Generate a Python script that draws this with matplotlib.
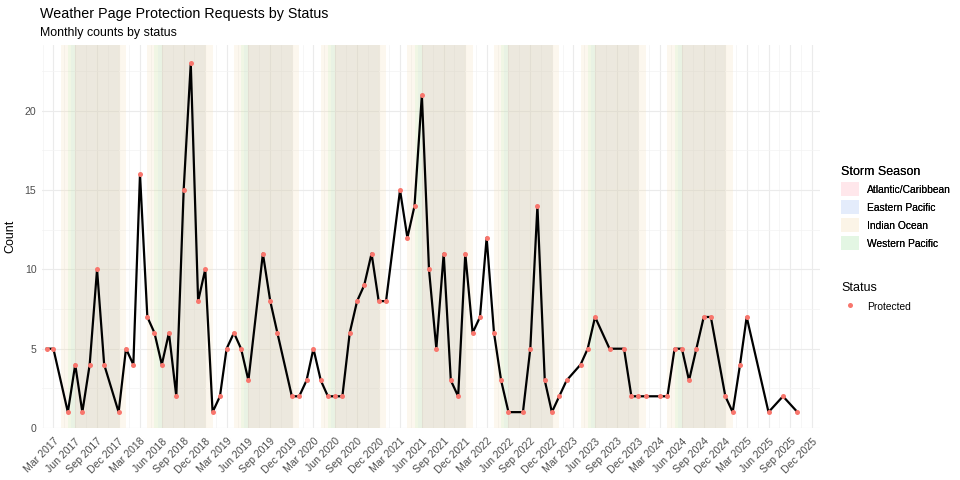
import matplotlib
matplotlib.use("Agg")
import matplotlib.pyplot as plt
from matplotlib.patches import Patch
from matplotlib.lines import Line2D
import pandas as pd
import numpy as np

plt.rcParams['font.family'] = ['Liberation Sans', 'DejaVu Sans']

# monthly counts (months with no requests are simply absent)
months = ["2017-02", "2017-03", "2017-05", "2017-06", "2017-07", "2017-08", "2017-09", "2017-10", "2017-12",
          "2018-01", "2018-02", "2018-03", "2018-04", "2018-05", "2018-06", "2018-07", "2018-08", "2018-09",
          "2018-10", "2018-11", "2018-12",
          "2019-01", "2019-02", "2019-03", "2019-04", "2019-05", "2019-06", "2019-08", "2019-09", "2019-10",
          "2019-12",
          "2020-01", "2020-02", "2020-03", "2020-04", "2020-05", "2020-06", "2020-07", "2020-08", "2020-09",
          "2020-10", "2020-11", "2020-12",
          "2021-01", "2021-03", "2021-04", "2021-05", "2021-06", "2021-07", "2021-08", "2021-09", "2021-10",
          "2021-11", "2021-12",
          "2022-01", "2022-02", "2022-03", "2022-04", "2022-05", "2022-06", "2022-08", "2022-09", "2022-10",
          "2022-11", "2022-12",
          "2023-01", "2023-02", "2023-04", "2023-05", "2023-06", "2023-08", "2023-10", "2023-11", "2023-12",
          "2024-01", "2024-03", "2024-04", "2024-05", "2024-06", "2024-07", "2024-08", "2024-09", "2024-10",
          "2024-12",
          "2025-01", "2025-02", "2025-03", "2025-06", "2025-08", "2025-10"]
counts = [5, 5, 1, 4, 1, 4, 10, 4, 1,
          5, 4, 16, 7, 6, 4, 6, 2, 15,
          23, 8, 10,
          1, 2, 5, 6, 5, 3, 11, 8, 6,
          2,
          2, 3, 5, 3, 2, 2, 2, 6, 8,
          9, 11, 8,
          8, 15, 12, 14, 21, 10, 5, 11, 3,
          2, 11,
          6, 7, 12, 6, 3, 1, 1, 5, 14,
          3, 1,
          2, 3, 4, 5, 7, 5, 5, 2, 2,
          2, 2, 2, 5, 5, 3, 5, 7, 7,
          2,
          1, 4, 7, 1, 2, 1]

# storm seasons (month-day start / end), shaded each year
season_names = ["Atlantic/Caribbean", "Eastern Pacific", "Indian Ocean", "Western Pacific"]
season_start = ["06-01", "05-15", "04-01", "05-01"]
season_end = ["11-30", "11-30", "12-31", "11-30"]
season_colors = ["#FFB6C1", "#ADD8E6", "#F5DEB3", "#90EE90"]
season_alpha = [0.16, 0.10, 0.22, 0.10]
legend_colors = ["#FFB6C1", "#A9C4F5", "#F5DEB3", "#A8E6A8"]
season_years = list(range(2017, 2025))

dates = pd.to_datetime(months)

fig = plt.figure(figsize=(9.6, 4.8), dpi=100)
ax = fig.add_axes([42 / 960, 1 - 428 / 480, (820 - 42) / 960, (428 - 45) / 480])

# draw order: Indian, Western, Eastern, Atlantic
for i in [2, 3, 1, 0]:
    for yr in season_years:
        s = pd.Timestamp(f"{yr}-{season_start[i]}")
        e = pd.Timestamp(f"{yr}-{season_end[i]}") + pd.Timedelta(days=1)
        ax.axvspan(s, e, color=season_colors[i], alpha=season_alpha[i], lw=0, zorder=1)

ax.plot(dates, counts, color="black", lw=1.6, zorder=3)
ax.plot(dates, counts, "o", color="#F8766D", ms=3.6, mec="none", zorder=4)

major = pd.date_range("2017-03-01", "2025-12-01", freq="3MS")
ext = major.insert(0, pd.Timestamp("2016-12-01")).append(pd.DatetimeIndex([pd.Timestamp("2026-03-01")]))
minor = ext[:-1] + (ext[1:] - ext[:-1]) / 2
ax.set_xticks(major)
ax.set_xticklabels([d.strftime("%b %Y") for d in major], rotation=45, ha="right",
                   rotation_mode="anchor", fontsize=7.6, color="#4D4D4D")
ax.set_xticks(minor, minor=True)
ax.set_yticks([0, 5, 10, 15, 20])
ax.set_yticks(np.arange(2.5, 25, 5), minor=True)
ax.tick_params(axis="y", labelsize=7.6, labelcolor="#4D4D4D", pad=4)
ax.tick_params(axis="x", pad=6)
ax.tick_params(which="both", length=0)

ax.set_xlim(pd.Timestamp("2017-01-12"), pd.Timestamp("2026-01-04"))
ax.set_ylim(0, 24.15)

ax.grid(which="major", color="#EBEBEB", lw=0.8, zorder=0)
ax.grid(which="minor", color="#F3F3F3", lw=0.5, zorder=0)
ax.set_axisbelow(True)
for sp in ax.spines.values():
    sp.set_visible(False)

ax.set_ylabel("Count", fontsize=9, labelpad=6)

fig.text(40 / 960, 1 - 14 / 480, "Weather Page Protection Requests by Status", fontsize=10.3, va="center")
fig.text(40 / 960, 1 - 33 / 480, "Monthly counts by status", fontsize=8.9, va="center")

handles = []
for c in legend_colors:
    handles.append(Patch(facecolor=c, alpha=0.17, edgecolor="none"))
leg1 = fig.legend(handles, season_names, title="Storm Season", loc="upper left",
                  bbox_to_anchor=(832 / 960, 1 - 157 / 480), frameon=False, fontsize=7.4,
                  title_fontsize=9, handlelength=1.7, handleheight=1.7, labelspacing=0.4,
                  handletextpad=0.8, alignment="left")
fig.add_artist(leg1)
ph = [Line2D([], [], marker="o", ls="none", color="#F8766D", ms=3.6, mec="none")]
fig.legend(ph, ["Protected"], title="Status", loc="upper left",
           bbox_to_anchor=(832 / 960, 1 - 273 / 480), frameon=False, fontsize=7.4,
           title_fontsize=9, handlelength=1.7, handleheight=1.7, handletextpad=0.8,
           alignment="left")

fig.savefig("out.png", dpi=100)
